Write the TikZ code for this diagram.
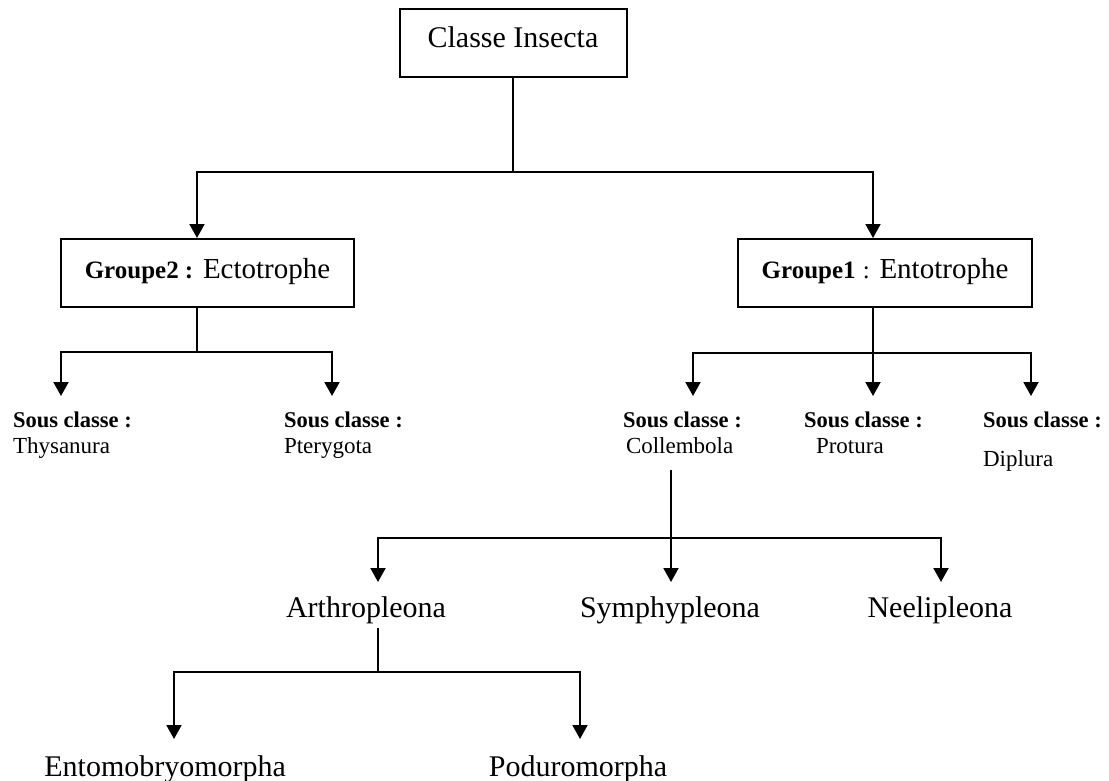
\documentclass[tikz,border=0pt]{standalone}
\usepackage{fontspec}
\setmainfont{Liberation Serif}
\usetikzlibrary{arrows.meta}
\begin{document}
\begin{tikzpicture}[x=1pt,y=-1pt,
  line width=2pt,
  box/.style={draw,line width=2pt,inner sep=0pt,minimum height=68pt},
  big/.style={font=\fontsize{30}{36}\selectfont},
  sub/.style={inner sep=0pt,font=\fontsize{23}{27}\selectfont},
  subb/.style={inner sep=0pt,font=\fontsize{22.5}{27}\selectfont\bfseries},
  arr/.style={-{Triangle[width=15pt,length=14pt]}},
]
\useasboundingbox (0,0) rectangle (1109,781);

% level 0
\node[box,big,minimum width=227pt,text height=22pt,text depth=12pt] (ci) at (513,43) {Classe Insecta};
% level 1
\node[box,minimum width=293pt,text height=20pt,text depth=10pt,font=\fontsize{29}{34}\selectfont] (g2) at (207.5,273)
  {{\fontsize{25}{29}\selectfont\bfseries Groupe2 :} Ectotrophe};
\node[box,minimum width=294pt,text height=20pt,text depth=10pt,font=\fontsize{29}{34}\selectfont] (g1) at (885,273)
  {{\fontsize{25}{29}\selectfont\bfseries Groupe1} {\fontsize{25}{29}\selectfont:} Entotrophe};

% level 2 labels
\node[subb,anchor=base west] (sThy) at (12,427) {Sous classe :};
\node[sub,anchor=base west] (nThy) at (12,453) {Thysanura};
\node[subb,anchor=base west] (sPte) at (283,427) {Sous classe :};
\node[sub,anchor=base west] (nPte) at (283,453) {Pterygota};
\node[subb,anchor=base west] (sCol) at (622,427) {Sous classe :};
\node[sub,anchor=base west] (nCol) at (625,453) {Collembola};
\node[subb,anchor=base west] (sPro) at (803,427) {Sous classe :};
\node[sub,anchor=base west] (nPro) at (815,453) {Protura};
\node[subb,anchor=base west] (sDip) at (982,427) {Sous classe :};
\node[sub,anchor=base west] (nDip) at (982,466) {Diplura};

% level 3
\node[big,inner sep=0pt,anchor=base] (art) at (366,617) {Arthropleona};
\node[big,inner sep=0pt,anchor=base] (sym) at (670,617) {Symphypleona};
\node[big,inner sep=0pt,anchor=base] (nee) at (940,617) {Neelipleona};
% level 4
\node[big,inner sep=0pt,anchor=base east] (ent) at (287,776) {Entomobryomorpha};
\node[big,inner sep=0pt,anchor=base] (pod) at (578,776) {Poduromorpha};

% connector points
\coordinate (j1) at (513,172);
\coordinate (j2) at (197,352);
\coordinate (j3) at (873,353);
\coordinate (tThy) at (61,396);
\coordinate (tPte) at (332,396);
\coordinate (tCol) at (693,396);
\coordinate (tPro) at (873,396);
\coordinate (tDip) at (1031,396);
\coordinate (cCol) at (671,470);
\coordinate (j4) at (671,538);
\coordinate (tArt) at (378,582);
\coordinate (tSym) at (671,582);
\coordinate (tNee) at (941,582);
\coordinate (cArt) at (378,628);
\coordinate (j5) at (378,672);
\coordinate (tEnt) at (174,739);
\coordinate (tPod) at (580,739);

% connectors
\draw (ci.south) -- (j1);
\draw[arr] (j1) -| ([xshift=-10.5pt]g2.north);
\draw[arr] (j1) -| ([xshift=-12pt]g1.north);

\draw ([xshift=-10.5pt]g2.south) -- (j2);
\draw[arr] (j2) -| (tThy);
\draw[arr] (j2) -| (tPte);

\draw[arr] ([xshift=-12pt]g1.south) -- (tPro);
\draw[arr] (j3) -| (tCol);
\draw[arr] (j3) -| (tDip);

\draw[arr] (cCol) -- (tSym);
\draw[arr] (j4) -| (tArt);
\draw[arr] (j4) -| (tNee);

\draw (cArt) -- (j5);
\draw[arr] (j5) -| (tEnt);
\draw[arr] (j5) -| (tPod);
\end{tikzpicture}
\end{document}
